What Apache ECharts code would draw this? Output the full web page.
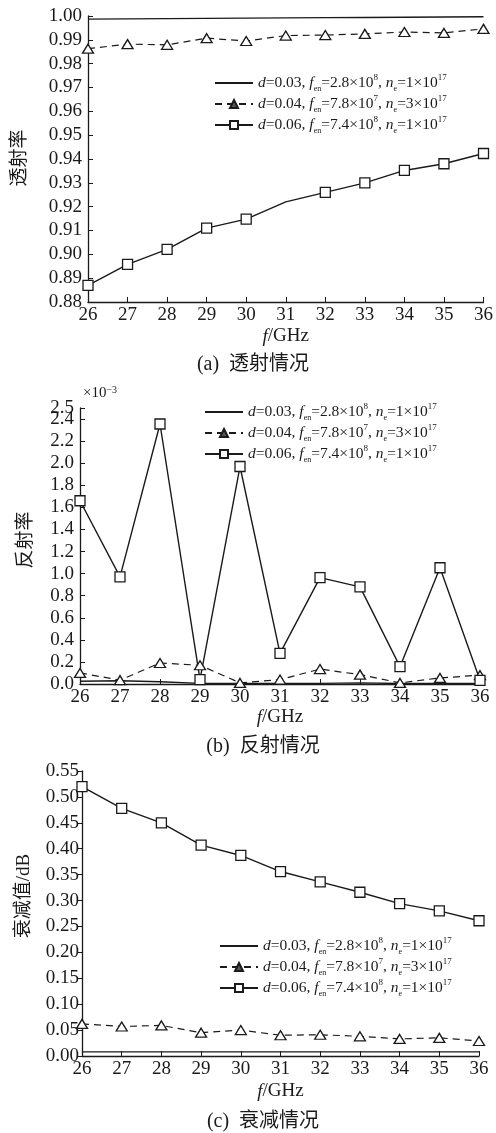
<!DOCTYPE html>
<html>
<head>
<meta charset="utf-8">
<script src="https://cdn.jsdelivr.net/npm/echarts@6/dist/echarts.min.js"></script>
<style>
  html, body { margin: 0; padding: 0; background: #fff; }
  #chart { width: 496px; height: 1133px; }
</style>
</head>
<body>
<div id="chart"></div>
<script>
// 频率 (GHz)
const freqs = [26, 27, 28, 29, 30, 31, 32, 33, 34, 35, 36]

// (a) 透射率
const transA = [0.9987, 0.9988, 0.9989, 0.9990, 0.9991, 0.9992, 0.9993, 0.9994, 0.9995, 0.9996, 0.9997]
const transB = [0.9863, 0.9882, 0.9879, 0.9907, 0.9895, 0.9918, 0.9920, 0.9925, 0.9933, 0.9929, 0.9946]
const transC = [0.8870, 0.8958, 0.9021, 0.9110, 0.9148, 0.9220, 0.9260, 0.9300, 0.9352, 0.9380, 0.9423]

// (b) 反射率 (×10^-3)
const reflA = [0.025, 0.03, 0.02, 0.006, 0.005, 0.004, 0.006, 0.01, 0.005, 0.005, 0.005]
const reflB = [0.10, 0.035, 0.19, 0.17, 0.01, 0.04, 0.135, 0.085, 0.01, 0.055, 0.08]
const reflC = [1.66, 0.97, 2.355, 0.04, 1.97, 0.278, 0.963, 0.88, 0.157, 1.053, 0.033]
// (b) 纵轴刻度
const reflTicks = [0, 0.2, 0.4, 0.6, 0.8, 1.0, 1.2, 1.4, 1.6, 1.8, 2.0, 2.2, 2.4, 2.5]
const reflTopTick = [2.5]

// (c) 衰减值 (dB)
const attA = [0.008, 0.008, 0.008, 0.008, 0.008, 0.008, 0.008, 0.008, 0.008, 0.008, 0.008]
const attB = [0.062, 0.057, 0.059, 0.045, 0.050, 0.040, 0.041, 0.038, 0.033, 0.035, 0.029]
const attC = [0.520, 0.478, 0.450, 0.407, 0.387, 0.356, 0.336, 0.316, 0.294, 0.280, 0.261]

// 图例名称
const names = ['s1', 's2', 's3']
const legendText = {
  s1: '{i|d}=0.03, {i|f}{sub|en}=2.8×10{sup|8}, {i|n}{sub|e}=1×10{sup|17}',
  s2: '{i|d}=0.04, {i|f}{sub|en}=7.8×10{sup|7}, {i|n}{sub|e}=3×10{sup|17}',
  s3: '{i|d}=0.06, {i|f}{sub|en}=7.4×10{sup|8}, {i|n}{sub|e}=1×10{sup|17}',
}

const SERIF = '"Liberation Serif", "Noto Sans CJK SC", serif'
const INK = '#1a1a1a'

const chart = echarts.init(document.getElementById('chart'))

const pairs = (ys) => freqs.map((x, i) => [x, ys[i]])

const richText = {
  i: { fontStyle: 'italic', fontFamily: SERIF, fontSize: 15.5, color: INK },
  sub: { fontFamily: SERIF, fontSize: 8, color: INK, verticalAlign: 'bottom', lineHeight: 11 },
  sup: { fontFamily: SERIF, fontSize: 9, color: INK, verticalAlign: 'top', lineHeight: 11 },
}

const makeLegend = (idx, left, top) => ({
  orient: 'vertical',
  left: left,
  top: top,
  padding: 0,
  itemGap: 1,
  itemWidth: 38,
  itemHeight: 10,
  data: [
    // 实线图例不带标记
    { name: 's1', itemStyle: { opacity: 0 } },
    { name: 's2', itemStyle: { color: '#555', borderColor: INK } },
    's3',
  ],
  formatter: (n) => legendText[n],
  textStyle: {
    fontFamily: SERIF,
    fontSize: 15.5,
    color: INK,
    lineHeight: 20,
    rich: richText,
  },
})

const makeX = (idx, gap) => ({
  type: 'value',
  gridIndex: idx,
  min: 26,
  max: 36,
  interval: 1,
  name: '{i|f}/GHz',
  nameLocation: 'middle',
  nameGap: gap,
  nameTextStyle: {
    fontFamily: SERIF,
    fontSize: 19,
    color: INK,
    rich: { i: { fontStyle: 'italic', fontFamily: SERIF, fontSize: 19, color: INK } },
  },
  axisLine: { lineStyle: { color: INK, width: 1.3 } },
  axisTick: { inside: true, length: 5, lineStyle: { color: INK } },
  axisLabel: { fontFamily: SERIF, fontSize: 19, color: INK, margin: 4 },
  splitLine: { show: false },
})

const makeY = (idx, min, max, interval, digits, inside) => ({
  type: 'value',
  gridIndex: idx,
  position: 'left',
  min: min,
  max: max,
  interval: interval,
  axisLine: { show: true, lineStyle: { color: INK, width: 1.3 } },
  axisTick: { show: true, inside: inside, length: 5, lineStyle: { color: INK } },
  axisLabel: {
    fontFamily: SERIF,
    fontSize: 19,
    color: INK,
    margin: inside ? 6 : 3,
    showMinLabel: true,
    showMaxLabel: true,
    formatter: (v) => v.toFixed(digits),
  },
  splitLine: { show: false },
})

const makeSeries = (idx, ys1, ys2, ys3) => [
  {
    name: 's1',
    type: 'line',
    xAxisIndex: idx,
    yAxisIndex: idx,
    data: pairs(ys1),
    symbol: 'none',
    lineStyle: { color: INK, width: 1.4 },
    itemStyle: { color: INK },
  },
  {
    name: 's2',
    type: 'line',
    xAxisIndex: idx,
    yAxisIndex: idx,
    data: pairs(ys2),
    symbol: 'triangle',
    symbolSize: [11, 9],
    lineStyle: { color: INK, width: 1.2, type: [7, 5] },
    itemStyle: { color: '#fff', borderColor: INK, borderWidth: 1.3 },
  },
  {
    name: 's3',
    type: 'line',
    xAxisIndex: idx,
    yAxisIndex: idx,
    data: pairs(ys3),
    symbol: 'rect',
    symbolSize: 10,
    lineStyle: { color: INK, width: 1.4 },
    itemStyle: { color: '#fff', borderColor: INK, borderWidth: 1.3 },
  },
]

const seriesA = makeSeries(0, transA, transB, transC)
// (a) 31 GHz 处无方块标记
seriesA[2].data[5] = { value: seriesA[2].data[5], symbol: 'none' }

// (b) 主纵轴: 0.0 ~ 2.4 的标签, 2.5 另用一根叠加轴显示
const yAxisB = makeY(1, 0, 2.5, 0.2, 1, true)
yAxisB.axisTick.customValues = reflTicks
yAxisB.axisLabel.customValues = reflTicks.slice(0, -1)
yAxisB.axisLabel.showMaxLabel = null

const yAxisBTop = makeY(1, 0, 2.5, 0.2, 1, true)
yAxisBTop.axisLine.show = false
yAxisBTop.axisTick.show = false
yAxisBTop.axisLabel.customValues = reflTopTick

const textEl = (x, y, text, rotate, size) => ({
  type: 'text',
  x: x,
  y: y,
  rotation: rotate ? Math.PI / 2 : 0,
  style: {
    text: text,
    fontFamily: SERIF,
    fontSize: size || 19,
    fill: INK,
    align: 'center',
    verticalAlign: 'middle',
  },
})

const option = {
  animation: false,
  backgroundColor: '#fff',
  grid: [
    { left: 88, top: 16, width: 397, height: 286 },
    { left: 80, top: 408, width: 400, height: 276 },
    { left: 82, top: 771, width: 397, height: 285 },
  ],
  legend: [
    makeLegend(0, 214, 73),
    makeLegend(1, 204, 402),
    makeLegend(2, 219, 936),
  ],
  xAxis: [makeX(0, 25), makeX(1, 24), makeX(2, 26)],
  yAxis: [
    makeY(0, 0.88, 1.0, 0.01, 2, true),
    yAxisB,
    makeY(2, 0, 0.55, 0.05, 2, false),
    yAxisBTop,
  ],
  series: [
    ...seriesA,
    ...makeSeries(1, reflA, reflB, reflC),
    ...makeSeries(2, attA, attB, attC),
  ],
  graphic: [
    textEl(20, 158, '透射率', true),
    textEl(26, 540, '反射率', true),
    textEl(24, 896, '衰减值/dB', true),
    {
      type: 'text',
      x: 83,
      y: 393,
      style: {
        text: '×10{sup|−3}',
        fontFamily: SERIF,
        fontSize: 15,
        fill: INK,
        verticalAlign: 'middle',
        rich: { sup: { fontFamily: SERIF, fontSize: 10, fill: INK, verticalAlign: 'top', lineHeight: 10 } },
      },
    },
    textEl(253, 365, '(a)  透射情况', false, 20),
    textEl(263, 747, '(b)  反射情况', false, 20),
    textEl(263, 1122, '(c)  衰减情况', false, 20),
  ],
}

chart.setOption(option)
</script>
</body>
</html>
